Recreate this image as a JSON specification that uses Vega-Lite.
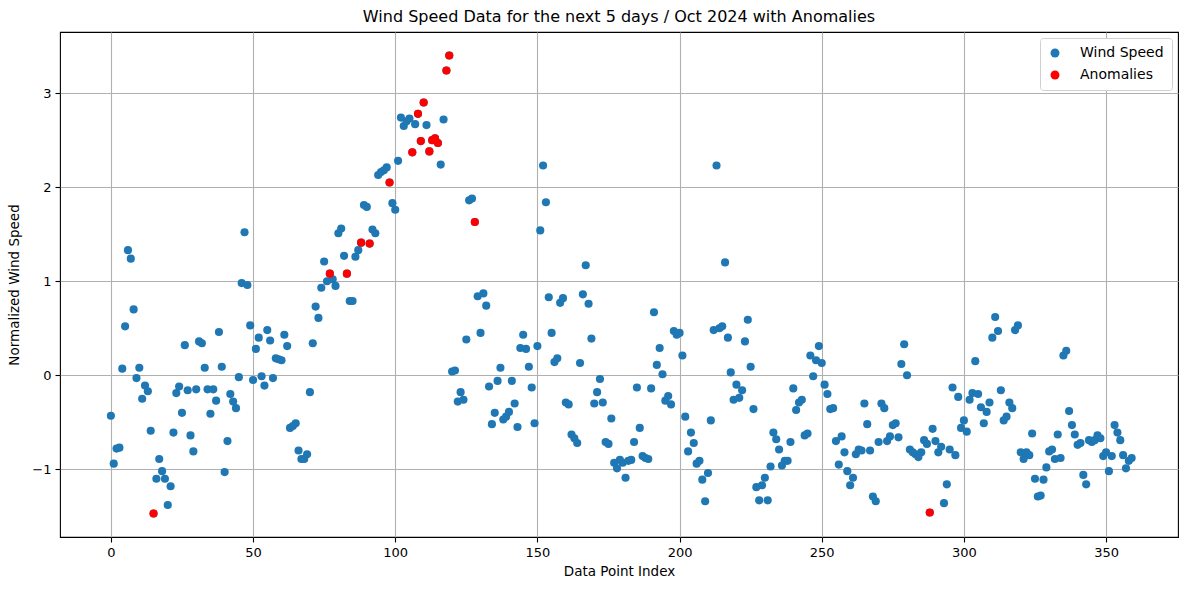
{
  "$schema": "https://vega.github.io/schema/vega-lite/v6.json",
  "autosize": "none",
  "width": 1118,
  "height": 505,
  "padding": {"left": 60, "top": 32, "right": 11, "bottom": 53},
  "background": "white",
  "config": {
    "font": "DejaVu Sans",
    "view": {"stroke": "black", "strokeWidth": 1.1},
    "axis": {
      "grid": true, "gridColor": "#b0b0b0", "gridWidth": 1.1,
      "domain": false, "tickColor": "black", "tickSize": 5, "tickWidth": 1.1,
      "labelFont": "DejaVu Sans", "labelFontSize": 13, "labelColor": "black", "labelPadding": 4,
      "titleFont": "DejaVu Sans", "titleFontSize": 13.5, "titleFontWeight": "normal", "titleColor": "black"
    },
    "title": {"font": "DejaVu Sans", "fontSize": 16, "fontWeight": "normal", "color": "black", "offset": 7}
  },
  "title": "Wind Speed Data for the next 5 days / Oct 2024 with Anomalies",
  "data": {"values": [
    {"i":0,"v":-0.43,"a":0},{"i":1,"v":-0.94,"a":0},{"i":2,"v":-0.78,"a":0},{"i":3,"v":-0.77,"a":0},{"i":4,"v":0.07,"a":0},
    {"i":5,"v":0.52,"a":0},{"i":6,"v":1.33,"a":0},{"i":7,"v":1.24,"a":0},{"i":8,"v":0.70,"a":0},{"i":9,"v":-0.03,"a":0},
    {"i":10,"v":0.08,"a":0},{"i":11,"v":-0.25,"a":0},{"i":12,"v":-0.11,"a":0},{"i":13,"v":-0.17,"a":0},{"i":14,"v":-0.59,"a":0},
    {"i":15,"v":-1.47,"a":1},{"i":16,"v":-1.10,"a":0},{"i":17,"v":-0.89,"a":0},{"i":18,"v":-1.02,"a":0},{"i":19,"v":-1.10,"a":0},
    {"i":20,"v":-1.38,"a":0},{"i":21,"v":-1.18,"a":0},{"i":22,"v":-0.61,"a":0},{"i":23,"v":-0.19,"a":0},{"i":24,"v":-0.12,"a":0},
    {"i":25,"v":-0.40,"a":0},{"i":26,"v":0.32,"a":0},{"i":27,"v":-0.16,"a":0},{"i":28,"v":-0.64,"a":0},{"i":29,"v":-0.81,"a":0},
    {"i":30,"v":-0.15,"a":0},{"i":31,"v":0.36,"a":0},{"i":32,"v":0.34,"a":0},{"i":33,"v":0.08,"a":0},{"i":34,"v":-0.15,"a":0},
    {"i":35,"v":-0.41,"a":0},{"i":36,"v":-0.15,"a":0},{"i":37,"v":-0.27,"a":0},{"i":38,"v":0.46,"a":0},{"i":39,"v":0.09,"a":0},
    {"i":40,"v":-1.03,"a":0},{"i":41,"v":-0.70,"a":0},{"i":42,"v":-0.20,"a":0},{"i":43,"v":-0.28,"a":0},{"i":44,"v":-0.35,"a":0},
    {"i":45,"v":-0.02,"a":0},{"i":46,"v":0.98,"a":0},{"i":47,"v":1.52,"a":0},{"i":48,"v":0.96,"a":0},{"i":49,"v":0.53,"a":0},
    {"i":50,"v":-0.05,"a":0},{"i":51,"v":0.28,"a":0},{"i":52,"v":0.40,"a":0},{"i":53,"v":-0.01,"a":0},{"i":54,"v":-0.11,"a":0},
    {"i":55,"v":0.48,"a":0},{"i":56,"v":0.37,"a":0},{"i":57,"v":-0.03,"a":0},{"i":58,"v":0.18,"a":0},{"i":59,"v":0.17,"a":0},
    {"i":60,"v":0.16,"a":0},{"i":61,"v":0.43,"a":0},{"i":62,"v":0.31,"a":0},{"i":63,"v":-0.56,"a":0},{"i":64,"v":-0.54,"a":0},
    {"i":65,"v":-0.51,"a":0},{"i":66,"v":-0.80,"a":0},{"i":67,"v":-0.89,"a":0},{"i":68,"v":-0.89,"a":0},{"i":69,"v":-0.84,"a":0},
    {"i":70,"v":-0.18,"a":0},{"i":71,"v":0.34,"a":0},{"i":72,"v":0.73,"a":0},{"i":73,"v":0.61,"a":0},{"i":74,"v":0.93,"a":0},
    {"i":75,"v":1.21,"a":0},{"i":76,"v":1.00,"a":0},{"i":77,"v":1.08,"a":1},{"i":78,"v":1.02,"a":0},{"i":79,"v":0.95,"a":0},
    {"i":80,"v":1.51,"a":0},{"i":81,"v":1.56,"a":0},{"i":82,"v":1.27,"a":0},{"i":83,"v":1.08,"a":1},{"i":84,"v":0.79,"a":0},
    {"i":85,"v":0.79,"a":0},{"i":86,"v":1.26,"a":0},{"i":87,"v":1.33,"a":0},{"i":88,"v":1.41,"a":1},{"i":89,"v":1.81,"a":0},
    {"i":90,"v":1.79,"a":0},{"i":91,"v":1.40,"a":1},{"i":92,"v":1.55,"a":0},{"i":93,"v":1.51,"a":0},{"i":94,"v":2.13,"a":0},
    {"i":95,"v":2.16,"a":0},{"i":96,"v":2.18,"a":0},{"i":97,"v":2.21,"a":0},{"i":98,"v":2.05,"a":1},{"i":99,"v":1.83,"a":0},
    {"i":100,"v":1.76,"a":0},{"i":101,"v":2.28,"a":0},{"i":102,"v":2.74,"a":0},{"i":103,"v":2.65,"a":0},{"i":104,"v":2.70,"a":0},
    {"i":105,"v":2.73,"a":0},{"i":106,"v":2.37,"a":1},{"i":107,"v":2.67,"a":0},{"i":108,"v":2.78,"a":1},{"i":109,"v":2.49,"a":1},
    {"i":110,"v":2.90,"a":1},{"i":111,"v":2.66,"a":0},{"i":112,"v":2.38,"a":1},{"i":113,"v":2.50,"a":1},{"i":114,"v":2.52,"a":1},
    {"i":115,"v":2.47,"a":1},{"i":116,"v":2.24,"a":0},{"i":117,"v":2.72,"a":0},{"i":118,"v":3.24,"a":1},{"i":119,"v":3.40,"a":1},
    {"i":120,"v":0.04,"a":0},{"i":121,"v":0.05,"a":0},{"i":122,"v":-0.28,"a":0},{"i":123,"v":-0.18,"a":0},{"i":124,"v":-0.26,"a":0},
    {"i":125,"v":0.38,"a":0},{"i":126,"v":1.86,"a":0},{"i":127,"v":1.88,"a":0},{"i":128,"v":1.63,"a":1},{"i":129,"v":0.84,"a":0},
    {"i":130,"v":0.45,"a":0},{"i":131,"v":0.87,"a":0},{"i":132,"v":0.74,"a":0},{"i":133,"v":-0.12,"a":0},{"i":134,"v":-0.52,"a":0},
    {"i":135,"v":-0.40,"a":0},{"i":136,"v":-0.06,"a":0},{"i":137,"v":0.08,"a":0},{"i":138,"v":-0.47,"a":0},{"i":139,"v":-0.44,"a":0},
    {"i":140,"v":-0.39,"a":0},{"i":141,"v":-0.06,"a":0},{"i":142,"v":-0.30,"a":0},{"i":143,"v":-0.55,"a":0},{"i":144,"v":0.29,"a":0},
    {"i":145,"v":0.43,"a":0},{"i":146,"v":0.28,"a":0},{"i":147,"v":0.09,"a":0},{"i":148,"v":-0.13,"a":0},{"i":149,"v":-0.51,"a":0},
    {"i":150,"v":0.31,"a":0},{"i":151,"v":1.54,"a":0},{"i":152,"v":2.23,"a":0},{"i":153,"v":1.84,"a":0},{"i":154,"v":0.83,"a":0},
    {"i":155,"v":0.45,"a":0},{"i":156,"v":0.14,"a":0},{"i":157,"v":0.18,"a":0},{"i":158,"v":0.77,"a":0},{"i":159,"v":0.82,"a":0},
    {"i":160,"v":-0.29,"a":0},{"i":161,"v":-0.31,"a":0},{"i":162,"v":-0.63,"a":0},{"i":163,"v":-0.67,"a":0},{"i":164,"v":-0.72,"a":0},
    {"i":165,"v":0.13,"a":0},{"i":166,"v":0.86,"a":0},{"i":167,"v":1.17,"a":0},{"i":168,"v":0.76,"a":0},{"i":169,"v":0.39,"a":0},
    {"i":170,"v":-0.30,"a":0},{"i":171,"v":-0.18,"a":0},{"i":172,"v":-0.04,"a":0},{"i":173,"v":-0.29,"a":0},{"i":174,"v":-0.71,"a":0},
    {"i":175,"v":-0.73,"a":0},{"i":176,"v":-0.46,"a":0},{"i":177,"v":-0.93,"a":0},{"i":178,"v":-0.99,"a":0},{"i":179,"v":-0.90,"a":0},
    {"i":180,"v":-0.93,"a":0},{"i":181,"v":-1.09,"a":0},{"i":182,"v":-0.91,"a":0},{"i":183,"v":-0.90,"a":0},{"i":184,"v":-0.71,"a":0},
    {"i":185,"v":-0.13,"a":0},{"i":186,"v":-0.56,"a":0},{"i":187,"v":-0.86,"a":0},{"i":188,"v":-0.88,"a":0},{"i":189,"v":-0.89,"a":0},
    {"i":190,"v":-0.14,"a":0},{"i":191,"v":0.67,"a":0},{"i":192,"v":0.11,"a":0},{"i":193,"v":0.29,"a":0},{"i":194,"v":0.01,"a":0},
    {"i":195,"v":-0.27,"a":0},{"i":196,"v":-0.22,"a":0},{"i":197,"v":-0.31,"a":0},{"i":198,"v":0.47,"a":0},{"i":199,"v":0.43,"a":0},
    {"i":200,"v":0.45,"a":0},{"i":201,"v":0.21,"a":0},{"i":202,"v":-0.44,"a":0},{"i":203,"v":-0.81,"a":0},{"i":204,"v":-0.61,"a":0},
    {"i":205,"v":-0.72,"a":0},{"i":206,"v":-0.94,"a":0},{"i":207,"v":-0.91,"a":0},{"i":208,"v":-1.11,"a":0},{"i":209,"v":-1.34,"a":0},
    {"i":210,"v":-1.04,"a":0},{"i":211,"v":-0.48,"a":0},{"i":212,"v":0.48,"a":0},{"i":213,"v":2.23,"a":0},{"i":214,"v":0.50,"a":0},
    {"i":215,"v":0.52,"a":0},{"i":216,"v":1.20,"a":0},{"i":217,"v":0.40,"a":0},{"i":218,"v":0.03,"a":0},{"i":219,"v":-0.26,"a":0},
    {"i":220,"v":-0.10,"a":0},{"i":221,"v":-0.24,"a":0},{"i":222,"v":-0.16,"a":0},{"i":223,"v":0.36,"a":0},{"i":224,"v":0.59,"a":0},
    {"i":225,"v":0.09,"a":0},{"i":226,"v":-0.36,"a":0},{"i":227,"v":-1.19,"a":0},{"i":228,"v":-1.33,"a":0},{"i":229,"v":-1.17,"a":0},
    {"i":230,"v":-1.09,"a":0},{"i":231,"v":-1.33,"a":0},{"i":232,"v":-0.97,"a":0},{"i":233,"v":-0.61,"a":0},{"i":234,"v":-0.68,"a":0},
    {"i":235,"v":-0.79,"a":0},{"i":236,"v":-0.96,"a":0},{"i":237,"v":-0.91,"a":0},{"i":238,"v":-0.91,"a":0},{"i":239,"v":-0.71,"a":0},
    {"i":240,"v":-0.14,"a":0},{"i":241,"v":-0.37,"a":0},{"i":242,"v":-0.29,"a":0},{"i":243,"v":-0.26,"a":0},{"i":244,"v":-0.64,"a":0},
    {"i":245,"v":-0.62,"a":0},{"i":246,"v":0.21,"a":0},{"i":247,"v":-0.01,"a":0},{"i":248,"v":0.16,"a":0},{"i":249,"v":0.31,"a":0},
    {"i":250,"v":0.13,"a":0},{"i":251,"v":-0.10,"a":0},{"i":252,"v":-0.20,"a":0},{"i":253,"v":-0.36,"a":0},{"i":254,"v":-0.35,"a":0},
    {"i":255,"v":-0.70,"a":0},{"i":256,"v":-0.95,"a":0},{"i":257,"v":-0.65,"a":0},{"i":258,"v":-0.82,"a":0},{"i":259,"v":-1.02,"a":0},
    {"i":260,"v":-1.17,"a":0},{"i":261,"v":-1.09,"a":0},{"i":262,"v":-0.84,"a":0},{"i":263,"v":-0.79,"a":0},{"i":264,"v":-0.80,"a":0},
    {"i":265,"v":-0.30,"a":0},{"i":266,"v":-0.52,"a":0},{"i":267,"v":-0.80,"a":0},{"i":268,"v":-1.29,"a":0},{"i":269,"v":-1.34,"a":0},
    {"i":270,"v":-0.71,"a":0},{"i":271,"v":-0.30,"a":0},{"i":272,"v":-0.35,"a":0},{"i":273,"v":-0.70,"a":0},{"i":274,"v":-0.65,"a":0},
    {"i":275,"v":-0.53,"a":0},{"i":276,"v":-0.51,"a":0},{"i":277,"v":-0.66,"a":0},{"i":278,"v":0.12,"a":0},{"i":279,"v":0.33,"a":0},
    {"i":280,"v":0.00,"a":0},{"i":281,"v":-0.79,"a":0},{"i":282,"v":-0.82,"a":0},{"i":283,"v":-0.84,"a":0},{"i":284,"v":-0.87,"a":0},
    {"i":285,"v":-0.82,"a":0},{"i":286,"v":-0.69,"a":0},{"i":287,"v":-0.73,"a":0},{"i":288,"v":-1.46,"a":1},{"i":289,"v":-0.57,"a":0},
    {"i":290,"v":-0.70,"a":0},{"i":291,"v":-0.82,"a":0},{"i":292,"v":-0.76,"a":0},{"i":293,"v":-1.36,"a":0},{"i":294,"v":-1.16,"a":0},
    {"i":295,"v":-0.79,"a":0},{"i":296,"v":-0.13,"a":0},{"i":297,"v":-0.85,"a":0},{"i":298,"v":-0.23,"a":0},{"i":299,"v":-0.56,"a":0},
    {"i":300,"v":-0.48,"a":0},{"i":301,"v":-0.60,"a":0},{"i":302,"v":-0.26,"a":0},{"i":303,"v":-0.19,"a":0},{"i":304,"v":0.15,"a":0},
    {"i":305,"v":-0.20,"a":0},{"i":306,"v":-0.34,"a":0},{"i":307,"v":-0.51,"a":0},{"i":308,"v":-0.39,"a":0},{"i":309,"v":-0.29,"a":0},
    {"i":310,"v":0.40,"a":0},{"i":311,"v":0.62,"a":0},{"i":312,"v":0.47,"a":0},{"i":313,"v":-0.16,"a":0},{"i":314,"v":-0.48,"a":0},
    {"i":315,"v":-0.44,"a":0},{"i":316,"v":-0.29,"a":0},{"i":317,"v":-0.35,"a":0},{"i":318,"v":0.48,"a":0},{"i":319,"v":0.53,"a":0},
    {"i":320,"v":-0.82,"a":0},{"i":321,"v":-0.89,"a":0},{"i":322,"v":-0.82,"a":0},{"i":323,"v":-0.85,"a":0},{"i":324,"v":-0.62,"a":0},
    {"i":325,"v":-1.10,"a":0},{"i":326,"v":-1.29,"a":0},{"i":327,"v":-1.28,"a":0},{"i":328,"v":-1.11,"a":0},{"i":329,"v":-0.98,"a":0},
    {"i":330,"v":-0.81,"a":0},{"i":331,"v":-0.79,"a":0},{"i":332,"v":-0.89,"a":0},{"i":333,"v":-0.63,"a":0},{"i":334,"v":-0.88,"a":0},
    {"i":335,"v":0.21,"a":0},{"i":336,"v":0.26,"a":0},{"i":337,"v":-0.38,"a":0},{"i":338,"v":-0.53,"a":0},{"i":339,"v":-0.63,"a":0},
    {"i":340,"v":-0.74,"a":0},{"i":341,"v":-0.72,"a":0},{"i":342,"v":-1.06,"a":0},{"i":343,"v":-1.16,"a":0},{"i":344,"v":-0.69,"a":0},
    {"i":345,"v":-0.71,"a":0},{"i":346,"v":-0.69,"a":0},{"i":347,"v":-0.64,"a":0},{"i":348,"v":-0.67,"a":0},{"i":349,"v":-0.86,"a":0},
    {"i":350,"v":-0.82,"a":0},{"i":351,"v":-1.02,"a":0},{"i":352,"v":-0.86,"a":0},{"i":353,"v":-0.53,"a":0},{"i":354,"v":-0.61,"a":0},
    {"i":355,"v":-0.69,"a":0},{"i":356,"v":-0.85,"a":0},{"i":357,"v":-0.99,"a":0},{"i":358,"v":-0.91,"a":0},{"i":359,"v":-0.88,"a":0}
  ]},
  "encoding": {
    "x": {"field": "i", "type": "quantitative", "title": "Data Point Index",
      "scale": {"domain": [-17.9, 375.3], "nice": false, "zero": false},
      "axis": {"values": [0, 50, 100, 150, 200, 250, 300, 350], "format": "d", "titlePadding": 5}},
    "y": {"field": "v", "type": "quantitative", "title": "Normalized Wind Speed",
      "scale": {"domain": [-1.72, 3.65], "nice": false, "zero": false},
      "axis": {"values": [-1, 0, 1, 2, 3], "format": "d", "titlePadding": 10}}
  },
  "layer": [
    {
      "mark": {"type": "circle", "size": 66, "opacity": 1},
      "encoding": {
        "color": {"datum": "Wind Speed", "type": "nominal",
          "scale": {"domain": ["Wind Speed", "Anomalies"], "range": ["#1f77b4", "#ff0000"]},
          "legend": {"title": null, "orient": "top-right", "offset": 6, "padding": 8,
            "fillColor": "white", "strokeColor": "#d0d0d0", "cornerRadius": 3,
            "symbolType": "circle", "symbolSize": 80, "symbolStrokeWidth": 0, "symbolOpacity": 1,
            "labelFontSize": 14, "labelFont": "DejaVu Sans", "labelColor": "black",
            "rowPadding": 8, "labelOffset": 18}}
      }
    },
    {
      "transform": [{"filter": "datum.a == 1"}],
      "mark": {"type": "circle", "size": 66, "opacity": 1},
      "encoding": {
        "color": {"datum": "Anomalies", "type": "nominal"}
      }
    }
  ]
}
